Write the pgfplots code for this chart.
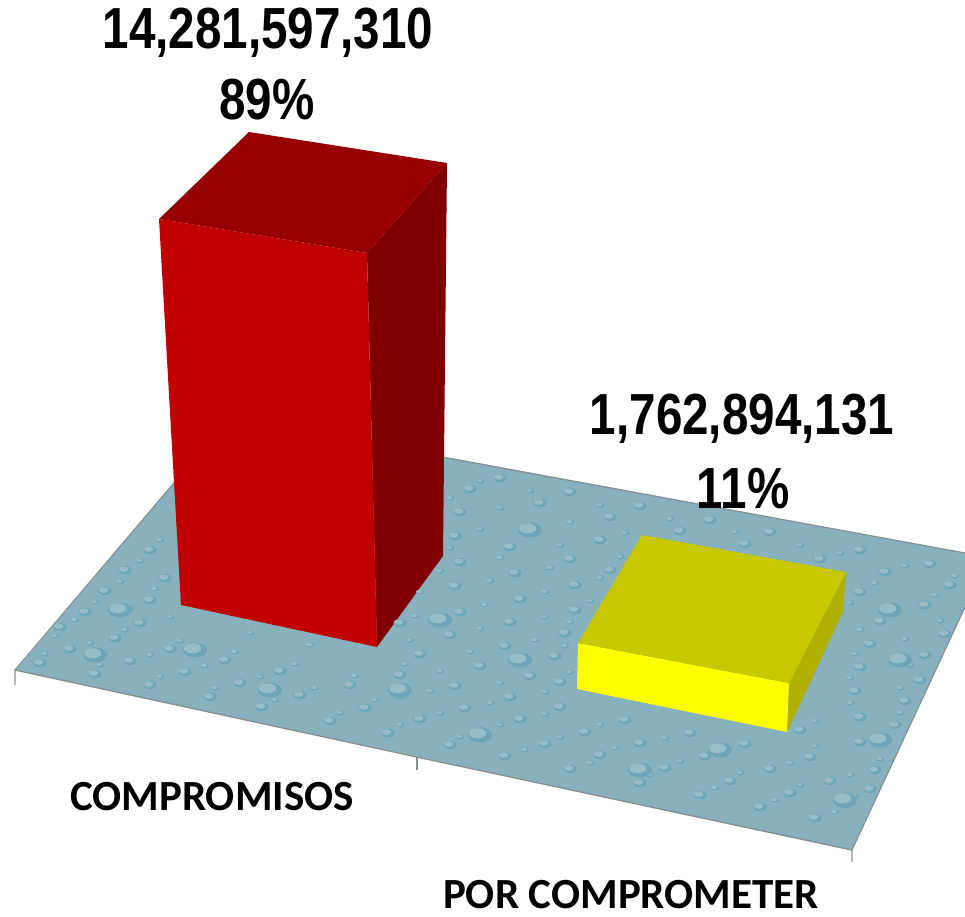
\documentclass[border=0pt]{standalone}
\usepackage{pgfplots}
\pgfplotsset{compat=1.18}
\usepackage{fontspec}
\setmainfont{Liberation Sans}
\newfontfamily\carl{Carlito}
\definecolor{floorc}{HTML}{87B1BC}
\definecolor{edgec}{HTML}{858F92}
\definecolor{dropd}{HTML}{6FA4B4}
\definecolor{dropl}{HTML}{97BDC6}
\pgfdeclareplotmark{drop}{%
  \pgfsetfillcolor{dropd}%
  \pgfpathellipse{\pgfpointorigin}{\pgfqpoint{\pgfplotmarksize}{0pt}}{\pgfqpoint{0pt}{0.62\pgfplotmarksize}}%
  \pgfusepathqfill
  \pgfsetfillcolor{dropl}%
  \pgfpathellipse{\pgfpoint{-0.2\pgfplotmarksize}{0.14\pgfplotmarksize}}{\pgfqpoint{0.72\pgfplotmarksize}{0pt}}{\pgfqpoint{0pt}{0.42\pgfplotmarksize}}%
  \pgfusepathqfill
}
\newcommand{\vallab}[1]{\fontsize{58}{60}\selectfont\bfseries #1}
\newcommand{\catlab}[1]{\fontsize{43}{46}\selectfont\carl\bfseries #1}
\begin{document}
\begin{tikzpicture}
\begin{axis}[
  scale only axis, width=965pt, height=916pt,
  xmin=0, xmax=965, ymin=0, ymax=916, y dir=reverse,
  hide axis, clip=true
]
\addplot[draw=none, forget plot] coordinates {(0,0) (965,916)};
% floor
\addplot[fill=floorc, draw=none] coordinates {(16,670) (852,850) (965,607) (965,553) (230,417)} -- cycle;
% texture, medium drops
\addplot[only marks, mark=drop, mark size=6.5pt] coordinates {
(40,663)(95,674)(150,685)(210,697)(262,707)(330,721)(388,733)(450,745)(505,756)(570,769)(640,783)(700,795)(760,807)(815,818)
(70,649)(130,661)(185,672)(240,683)(300,695)(365,708)(420,719)(480,731)(545,744)(600,755)(665,768)(730,781)(790,793)(845,804)
(60,627)(115,638)(170,649)(225,660)(280,671)(350,685)(400,695)(465,708)(520,719)(585,732)(640,743)(705,756)(770,769)(830,781)(870,789)
(85,612)(140,623)(400,675)(455,686)(510,697)(560,707)(625,720)(690,733)(745,744)(810,757)(875,770)
(105,591)(150,600)(420,654)(480,666)(530,676)(560,682)(800,730)(860,742)
(125,570)(165,578)(400,623)(450,635)(505,646)(555,656)(860,717)(895,725)
(150,550)(460,612)(510,622)(565,633)(855,691)(905,701)
(455,586)(520,599)(575,610)(860,667)(920,680)
(460,562)(515,573)(575,585)(870,644)(925,655)
(455,536)(510,547)(570,559)(610,570)(880,621)(945,634)
(460,512)(530,526)(600,540)(860,592)(925,605)
(470,489)(540,503)(610,517)(680,531)(745,544)(820,559)(885,572)(950,585)
(500,478)(570,492)(640,506)(710,520)(770,532)(860,550)(930,564)
};
% texture, small drops
\addplot[only marks, mark=drop, mark size=4pt] coordinates {
(45,654)(100,665)(160,677)(215,688)(275,700)(340,713)(400,725)(460,737)(525,750)(590,763)(650,775)(715,788)(775,800)(835,812)
(55,636)(90,643)(150,655)(205,666)(260,677)(315,688)(375,700)(440,713)(500,725)(560,737)(615,748)(680,761)(740,773)(800,785)(855,796)
(75,620)(125,630)(180,641)(235,652)(295,664)(355,676)(430,691)(490,703)(545,714)(600,725)(665,738)(725,750)(790,763)(850,775)
(95,602)(130,609)(170,617)(250,633)(310,645)(405,664)(440,671)(500,683)(545,692)(815,746)(880,759)
(120,582)(155,589)(410,640)(470,652)(520,662)(570,672)(815,721)(885,735)
(140,561)(415,616)(480,629)(535,640)(565,646)(850,703)(900,713)
(160,540)(420,592)(485,605)(545,617)(570,622)(850,678)(900,688)
(440,571)(490,581)(545,592)(590,601)(855,654)(910,665)
(450,548)(500,558)(550,568)(600,578)(860,630)(905,639)
(480,529)(560,545)(620,557)(850,603)(890,611)(940,621)
(450,498)(500,508)(570,522)(625,533)(875,583)(935,595)
(480,481)(530,491)(600,505)(670,519)(735,532)(800,545)(840,553)(905,566)(955,576)
};
% texture, large drops
\addplot[only marks, mark=drop, mark size=12pt] coordinates {
(95,655)(195,650)(270,690)(400,690)(480,735)(640,770)(720,750)(845,800)(890,610)(880,740)(520,660)(120,610)(440,620)(530,530)(900,660)
};
% floor edges and ticks
\addplot[edgec, line width=1.4pt] coordinates {(15,685) (15,670) (417,757) (852,850) (852,862)};
\addplot[edgec, line width=1.4pt] coordinates {(417,757) (417,770)};
\addplot[edgec, line width=1.2pt] coordinates {(852,850) (965,607)};
\addplot[edgec, line width=1.2pt] coordinates {(15,670) (230,417)};
\addplot[edgec, line width=1.2pt] coordinates {(965,553) (447,458)};
% red bar
\addplot[fill={rgb,255:red,128;green,0;blue,0}, draw=none] coordinates {(367,253) (447,163) (443,556) (377,647)} -- cycle;
\addplot[fill={rgb,255:red,192;green,0;blue,0}, draw=none] coordinates {(159,219) (367,253) (377,647) (181,605)} -- cycle;
\addplot[fill={rgb,255:red,150;green,0;blue,0}, draw=none] coordinates {(249,132) (447,163) (367,253) (159,219)} -- cycle;
% yellow bar
\addplot[fill={rgb,255:red,176;green,176;blue,0}, draw=none] coordinates {(789,683) (846,572) (843,612) (787,732)} -- cycle;
\addplot[fill={rgb,255:red,255;green,255;blue,0}, draw=none] coordinates {(578,643) (789,683) (787,732) (577,689)} -- cycle;
\addplot[fill={rgb,255:red,200;green,200;blue,0}, draw=none] coordinates {(642,535) (846,572) (789,683) (578,643)} -- cycle;
% labels
\node[xscale=0.82] at (axis cs:268,33) {\vallab{14,281,597,310}};
\node[xscale=0.82] at (axis cs:267,100) {\vallab{89\%}};
\node[xscale=0.82] at (axis cs:742,419) {\vallab{1,762,894,131}};
\node[xscale=0.82] at (axis cs:743,489) {\vallab{1{}1\%}};
\node at (axis cs:212,797) {\catlab{COMPROMISOS}};
\node[anchor=base, inner sep=0pt] at (axis cs:631,908) {\catlab{POR COMPROMETER}};
\end{axis}
\pgfresetboundingbox
\path[use as bounding box] (0,0) rectangle (965pt,916pt);
\end{tikzpicture}
\end{document}
